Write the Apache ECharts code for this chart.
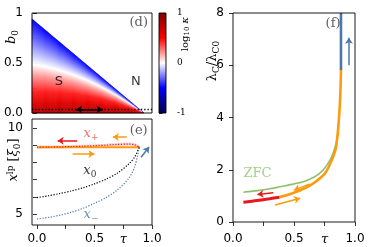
<!DOCTYPE html>
<html><head><meta charset="utf-8">
<script src="https://cdn.jsdelivr.net/npm/echarts@6/dist/echarts.min.js"></script>
<style>html,body{margin:0;padding:0;background:#fff}#c{width:374px;height:247px}</style>
</head><body><div id="c"></div><script>
// ---------------- data ----------------
const tauTicks = [0, 0.25, 0.5, 0.75, 1.0];
const tauLabels = [0, 0.5, 0.75, 1.0];
// panel (d): phase diagram
const boundaryTau = [-0.043, 0.93];
const boundaryB0 = [0.94, 0.0];
// log10(kappa) levels and where they sit (as fraction of the boundary height) at the left edge and near the tip
const kappaLog10 = [0.8, 0.62, 0.45, 0.2, 0.0, -0.25, -0.5];
const kappaFracLeft = [0, 0.1, 0.22, 0.4, 0.52, 0.75, 1.0];
const kappaFracTip = [0, 0.3, 0.5, 0.72, 0.86, 0.94, 1.0];
const coolLineTau = [-0.043, 1.0];
const coolLineB0 = [0.035, 0.035];
const sweepTau = [0.34, 0.57];
const sweepB0 = [0.035, 0.035];
const cbarTicks = [-1, 0, 1];
// panel (e)
const tauE = [0, 0.1, 0.2, 0.3, 0.4, 0.5, 0.6, 0.7, 0.8, 0.85, 0.89];
const xPlusRed = [8.88, 8.89, 8.9, 8.92, 8.94, 8.97, 9.0, 9.04, 9.06, 9.02, 8.88];
const xPlusOrange = [8.88, 8.88, 8.88, 8.88, 8.88, 8.88, 8.88, 8.88, 8.88, 8.88, 8.88];
const xZero = [5.95, 6.06, 6.19, 6.34, 6.52, 6.75, 7.02, 7.38, 7.92, 8.32, 8.88];
const xMinus = [4.71, 4.8, 4.93, 5.1, 5.33, 5.62, 5.95, 6.4, 7.1, 7.75, 8.88];
const eTicksY = [5, 6, 7, 8, 9, 10];
const eLabelsY = [5, 10];
// arrows (e): [tauStart, valStart, tauEnd, valEnd]
const eArrowRed = [0.35, 9.26, 0.18, 9.26];
const eArrowOrangeL = [0.78, 9.48, 0.66, 9.48];
const eArrowOrangeR = [0.31, 8.49, 0.5, 8.49];
const eArrowBlue = [0.905, 8.3, 0.975, 8.9];
// panel (f)
const tauZFC = [0.085, 0.2, 0.3, 0.385, 0.5, 0.6, 0.71, 0.795, 0.845, 0.862, 0.87];
const lamZFC = [1.14, 1.2, 1.27, 1.35, 1.46, 1.58, 1.86, 2.37, 3.01, 3.5, 4.1];
const tauOrange = [0.38, 0.45, 0.52, 0.6, 0.66, 0.754, 0.81, 0.845, 0.869, 0.88, 0.885];
const lamOrange = [0.95, 1.04, 1.16, 1.32, 1.48, 1.86, 2.37, 2.88, 4.0, 4.93, 5.82];
const tauRed = [0.085, 0.2, 0.3, 0.38];
const lamRed = [0.755, 0.82, 0.89, 0.95];
const tauBlue = [0.885, 0.885];
const lamBlue = [5.82, 8.0];
const fArrowBlue = [0.95, 6.0, 0.95, 7.05];
const fArrowRed = [0.33, 1.12, 0.2, 1.05];
const fArrowOrangeL = [0.63, 1.46, 0.5, 1.22];
const fArrowOrangeR = [0.345, 0.65, 0.55, 0.91];

// ---------------- helpers ----------------
const RED = '#e41a1c', ORANGE = '#ff9a0e', BLUE = '#4a78aa', GREEN = '#8fc06c';
const seismicStops = [[-1, [0, 0, 77]], [-0.5, [0, 0, 255]], [0, [255, 255, 255]], [0.5, [255, 0, 0]], [1, [128, 0, 0]]];
function seismic(v) {
  v = Math.max(-1, Math.min(1, v));
  for (let i = 0; i < 4; i++) {
    const [a, ca] = seismicStops[i], [b, cb] = seismicStops[i + 1];
    if (v <= b) { const t = (v - a) / (b - a); return 'rgb(' + ca.map((c, k) => Math.round(c + (cb[k] - c) * t)).join(',') + ')'; }
  }
}
function interp(xs, ys, x) {
  for (let i = 0; i < xs.length - 1; i++) {
    if (x <= xs[i + 1]) { const t = (x - xs[i]) / (xs[i + 1] - xs[i]); return ys[i] + (ys[i + 1] - ys[i]) * t; }
  }
  return ys[ys.length - 1];
}
const zip = (a, b) => a.map((v, i) => [v, b[i]]);
const arrow = (a, color, both) => [
  { coord: [a[0], a[1]], symbol: both ? 'arrow' : 'none', lineStyle: { color: color, width: 1.5, type: 'solid' } },
  { coord: [a[2], a[3]], symbol: 'arrow', lineStyle: { color: color, width: 1.5, type: 'solid' } }
];
const SERIF = 'DejaVu Serif';
const rich = {
  i: { fontFamily: SERIF, fontStyle: 'italic', fontSize: 13, lineHeight: 16 },
  n: { fontFamily: SERIF, fontSize: 13, lineHeight: 16 },
  s: { fontFamily: SERIF, fontSize: 9, lineHeight: 9, verticalAlign: 'bottom' },
  p: { fontFamily: SERIF, fontSize: 9, lineHeight: 9, verticalAlign: 'top' }
};
function richColored(color) {
  const r = {};
  for (const k in rich) r[k] = Object.assign({}, rich[k], { color: color });
  return r;
}

const axisLabelBase = { color: '#000', fontFamily: 'DejaVu Sans', fontSize: 12, margin: 9 };
const tickBase = { show: true, length: 4, lineStyle: { color: '#000', width: 0.8 } };
function tauAxis(gi, min, showLabels, margin) {
  return {
    type: 'value', gridIndex: gi, min: min, max: 1.0,
    axisLine: { show: false }, splitLine: { show: false },
    axisTick: showLabels ? Object.assign({ customValues: tauTicks }, tickBase) : { show: false },
    axisLabel: showLabels ? Object.assign({}, axisLabelBase, {
      margin: margin,
      customValues: tauLabels,
      formatter: v => Math.abs(v - 0.75) < 1e-6 ? '{t|τ}' : Number(v).toFixed(1),
      rich: { t: { fontFamily: SERIF, fontStyle: 'italic', fontSize: 13, color: '#000' } }
    }) : { show: false }
  };
}
function textItem(x, y, text, color, extra) {
  return { value: [x, y], label: Object.assign({ show: true, position: 'inside', formatter: text, color: color, rich: richColored(color) }, extra || {}) };
}
function textSeries(xi, items) {
  return { type: 'scatter', xAxisIndex: xi, yAxisIndex: xi, symbolSize: 1, itemStyle: { color: 'transparent' }, silent: true, z: 20, data: items };
}

function renderField(params, api) {
  const N = 120;
  const t0 = boundaryTau[0], t1 = boundaryTau[boundaryTau.length - 1];
  const children = [];
  for (let i = 0; i < N; i++) {
    const ta = t0 + (t1 - t0) * i / N, tb = t0 + (t1 - t0) * (i + 1) / N;
    const f = (i + 0.5) / N;
    const stops = kappaLog10.map((k, j) => ({ offset: kappaFracLeft[j] * (1 - f) + kappaFracTip[j] * f, color: seismic(k) }));
    const ba = interp(boundaryTau, boundaryB0, ta), bb = interp(boundaryTau, boundaryB0, tb);
    const p0 = api.coord([ta, 0]), p1 = api.coord([ta, ba]), p2 = api.coord([tb, bb]), p3 = api.coord([tb, 0]);
    let ym = api.coord([(ta + tb) / 2, (ba + bb) / 2])[1];
    if (p0[1] - ym < 0.5) ym = p0[1] - 0.5;
    const grad = { type: 'linear', x: 0, y: p0[1], x2: 0, y2: ym, global: true, colorStops: stops };
    children.push({ type: 'polygon', shape: { points: [p0, p1, p2, p3] }, style: { fill: grad, stroke: grad, lineWidth: 0.6 } });
  }
  return { type: 'group', children: children };
}
function renderCbar(params, api) {
  const a = api.coord([0, 1]), b = api.coord([1, -1]);
  const stops = [1, 0.5, 0, -0.5, -1].map((v, i) => ({ offset: i / 4, color: seismic(v) }));
  return { type: 'rect', shape: { x: a[0], y: a[1], width: b[0] - a[0], height: b[1] - a[1] },
    style: { fill: { type: 'linear', x: 0, y: 0, x2: 0, y2: 1, colorStops: stops } } };
}

const gridBase = { show: true, borderColor: '#000', borderWidth: 0.9, backgroundColor: 'transparent', containLabel: false, outerBoundsMode: 'none', z: 10 };

const option = {
  animation: false,
  backgroundColor: '#fff',
  grid: [
    Object.assign({ left: 32, top: 13, width: 120, height: 100 }, gridBase),
    Object.assign({ left: 32, top: 119, width: 120, height: 106 }, gridBase),
    Object.assign({ left: 233, top: 13, width: 122, height: 209 }, gridBase),
    Object.assign({ left: 159, top: 13, width: 7, height: 100 }, gridBase)
  ],
  xAxis: [
    tauAxis(0, -0.043, false, 8),
    tauAxis(1, -0.043, true, 8),
    tauAxis(2, 0, true, 11),
    { type: 'value', gridIndex: 3, min: 0, max: 1, show: false }
  ],
  yAxis: [
    { type: 'value', gridIndex: 0, min: 0, max: 1, interval: 0.25, axisLine: { show: false }, splitLine: { show: false },
      axisTick: tickBase,
      axisLabel: Object.assign({}, axisLabelBase, { showMinLabel: true, showMaxLabel: true,
        formatter: v => { v = Number(v); if (Math.abs(v) < 1e-6) return '0.0'; if (Math.abs(v - 0.5) < 1e-6) return '0.5'; if (Math.abs(v - 1) < 1e-6) return '1'; return ''; } }) },
    { type: 'value', gridIndex: 1, min: 4.36, max: 10.52, axisLine: { show: false }, splitLine: { show: false },
      axisTick: Object.assign({ customValues: eTicksY }, tickBase),
      axisLabel: Object.assign({}, axisLabelBase, { customValues: eLabelsY }) },
    { type: 'value', gridIndex: 2, min: 0, max: 8, interval: 2, axisLine: { show: false }, splitLine: { show: false },
      axisTick: tickBase, axisLabel: axisLabelBase },
    { type: 'value', gridIndex: 3, position: 'right', min: -1, max: 1, interval: 1, axisLine: { show: false }, splitLine: { show: false },
      axisTick: Object.assign({}, tickBase, { length: 3.5 }),
      axisLabel: { color: '#000', fontFamily: SERIF, fontSize: 9, margin: 11 } }
  ],
  series: [
    // (d)
    { type: 'custom', xAxisIndex: 0, yAxisIndex: 0, renderItem: renderField, data: [[0, 0]], silent: true, z: 1 },
    { type: 'line', xAxisIndex: 0, yAxisIndex: 0, data: zip(coolLineTau, coolLineB0), symbol: 'none', silent: true, z: 3,
      lineStyle: { color: '#000', width: 1.3, type: [1.3, 2] },
      markLine: { silent: true, symbol: ['arrow', 'arrow'], symbolSize: 6, label: { show: false }, emphasis: { disabled: true },
        data: [arrow([sweepTau[0], sweepB0[0], sweepTau[1], sweepB0[1]], '#000', true)] } },
    textSeries(0, [
      textItem(0.19, 0.315, 'S', '#000', { fontFamily: 'DejaVu Sans', fontSize: 13 }),
      textItem(0.86, 0.315, 'N', '#000', { fontFamily: 'DejaVu Sans', fontSize: 13 }),
      textItem(0.885, 0.905, '(d)', '#333', { fontFamily: SERIF, fontSize: 13 })
    ]),
    // colorbar
    { type: 'custom', xAxisIndex: 3, yAxisIndex: 3, renderItem: renderCbar, data: [[0, 0]], silent: true, z: 1 },
    // (e)
    { type: 'line', xAxisIndex: 1, yAxisIndex: 1, data: zip(tauE, xPlusRed), symbol: 'none', smooth: 0.3, silent: true, z: 2,
      lineStyle: { color: '#f4a0a0', width: 3, opacity: 0.5 } },
    { type: 'line', xAxisIndex: 1, yAxisIndex: 1, data: zip(tauE, xPlusOrange), symbol: 'none', silent: true, z: 3,
      lineStyle: { color: ORANGE, width: 2 } },
    { type: 'line', xAxisIndex: 1, yAxisIndex: 1, data: zip(tauE, xPlusRed), symbol: 'none', smooth: 0.3, silent: true, z: 4,
      lineStyle: { color: RED, width: 1.2, type: [1.2, 1.6] } },
    { type: 'line', xAxisIndex: 1, yAxisIndex: 1, data: zip(tauE, xZero), symbol: 'none', smooth: 0.3, silent: true, z: 3,
      lineStyle: { color: '#000', width: 1.2, type: [1.2, 1.6] } },
    { type: 'line', xAxisIndex: 1, yAxisIndex: 1, data: zip(tauE, xMinus), symbol: 'none', smooth: 0.3, silent: true, z: 3,
      lineStyle: { color: BLUE, width: 1.2, type: [1.2, 1.6] },
      markLine: { silent: true, symbol: ['none', 'arrow'], symbolSize: 6, label: { show: false }, emphasis: { disabled: true },
        data: [arrow(eArrowRed, RED), arrow(eArrowOrangeL, ORANGE), arrow(eArrowOrangeR, ORANGE), arrow(eArrowBlue, BLUE)] } },
    textSeries(1, [
      textItem(0.47, 9.65, '{i|x}{s|+}', '#f04848'),
      textItem(0.46, 7.5, '{i|x}{s|0}', '#000'),
      textItem(0.47, 4.95, '{i|x}{s|−}', BLUE),
      textItem(0.885, 9.83, '(e)', '#333', { fontFamily: SERIF, fontSize: 13 })
    ]),
    // (f)
    { type: 'line', xAxisIndex: 2, yAxisIndex: 2, data: zip(tauZFC, lamZFC), symbol: 'none', smooth: 0.3, silent: true, z: 2,
      lineStyle: { color: GREEN, width: 1.6 } },
    { type: 'line', xAxisIndex: 2, yAxisIndex: 2, data: zip(tauOrange, lamOrange), symbol: 'none', smooth: 0.3, silent: true, z: 3,
      lineStyle: { color: ORANGE, width: 2.6 } },
    { type: 'line', xAxisIndex: 2, yAxisIndex: 2, data: zip(tauRed, lamRed), symbol: 'none', smooth: 0.3, silent: true, z: 4,
      lineStyle: { color: RED, width: 3 } },
    { type: 'line', xAxisIndex: 2, yAxisIndex: 2, data: zip(tauBlue, lamBlue), symbol: 'none', silent: true, z: 4,
      lineStyle: { color: BLUE, width: 2.6 },
      markLine: { silent: true, symbol: ['none', 'arrow'], symbolSize: 6, label: { show: false }, emphasis: { disabled: true },
        data: [arrow(fArrowBlue, BLUE), arrow(fArrowRed, RED), arrow(fArrowOrangeL, ORANGE), arrow(fArrowOrangeR, ORANGE)] } },
    textSeries(2, [
      textItem(0.2, 1.84, 'ZFC', GREEN, { fontFamily: SERIF, fontSize: 13 }),
      textItem(0.82, 7.58, '(f)', '#333', { fontFamily: SERIF, fontSize: 13 })
    ])
  ],
  graphic: [
    { type: 'text', x: 12, y: 37, rotation: Math.PI / 2, style: { text: '{i|b}{s|0}', rich: richColored('#000'), align: 'center', verticalAlign: 'middle' } },
    { type: 'text', x: 14, y: 160, rotation: Math.PI / 2, style: { text: '{i|x}{p|lp}{n| [}{i|ξ}{s|0}{n|]}', rich: richColored('#000'), align: 'center', verticalAlign: 'middle' } },
    { type: 'text', x: 213, y: 61, rotation: Math.PI / 2, style: { text: '{n|λ}{s|C}{n|/λ}{s|C0}', rich: richColored('#000'), align: 'center', verticalAlign: 'middle' } },
    { type: 'text', x: 185, y: 34, rotation: Math.PI / 2, style: { text: '{m|log}{t|10}{m| }{k|κ}', align: 'center', verticalAlign: 'middle',
      rich: { m: { fontFamily: SERIF, fontSize: 10, lineHeight: 12, color: '#000' }, t: { fontFamily: SERIF, fontSize: 7, lineHeight: 7, verticalAlign: 'bottom', color: '#000' }, k: { fontFamily: SERIF, fontStyle: 'italic', fontSize: 10, lineHeight: 12, color: '#000' } } } }
  ]
};
echarts.init(document.getElementById('c'), null, { renderer: 'canvas' }).setOption(option);
</script></body></html>
